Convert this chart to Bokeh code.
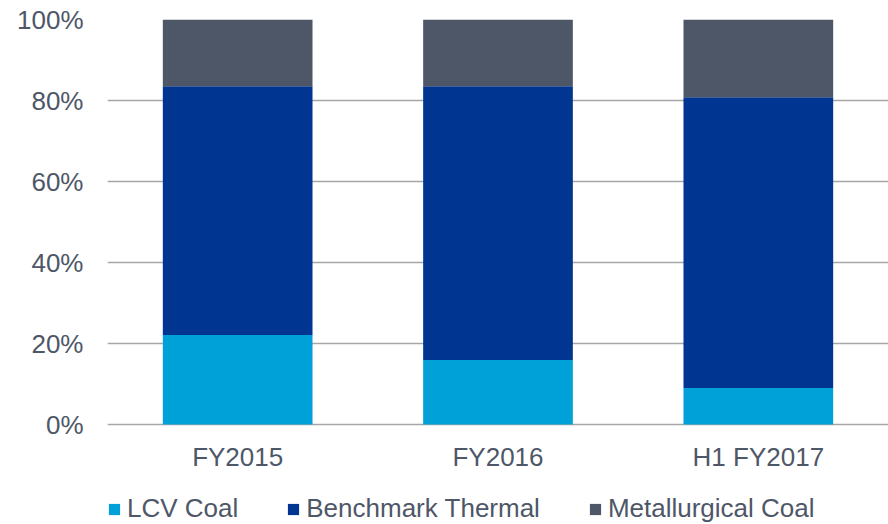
from bokeh.plotting import figure
from bokeh.models import FactorRange, Range1d, Legend, LegendItem, PrintfTickFormatter, FixedTicker
from bokeh.core.properties import value
from bokeh.embed import file_html
from bokeh.resources import INLINE

categories = ["FY2015", "FY2016", "H1 FY2017"]
lcv_coal = [22.1, 15.9, 9.0]
benchmark_thermal = [61.4, 67.6, 71.8]
metallurgical_coal = [16.5, 16.5, 19.2]
series_names = ["LCV Coal", "Benchmark Thermal", "Metallurgical Coal"]
y_ticks = [0, 20, 40, 60, 80, 100]

colors = ["#00A1D9", "#003591", "#4E5768"]
text_color = "#4E5768"
font = "Liberation Sans"

# plot area: 0% at 424px, 100% at 19px; frame extends to bottom of canvas (524px)
frame_top, zero_px, canvas_h = 19, 424, 524
y_min = -100.0 * (canvas_h - zero_px) / (zero_px - frame_top)

data = dict(cat=categories, lcv=lcv_coal, bench=benchmark_thermal, met=metallurgical_coal,
            base=[0] * len(categories))

p = figure(width=888, height=canvas_h, output_backend="svg", toolbar_location=None,
           x_range=FactorRange(factors=categories, range_padding=0),
           y_range=Range1d(y_min, 100),
           min_border_left=107, min_border_right=0, min_border_top=frame_top, min_border_bottom=0)

rs = p.vbar_stack(["lcv", "bench", "met"], x="cat", width=0.575, source=data,
                  color=colors, line_color=None)

# category labels under the bars
p.text(x="cat", y="base", text="cat", source=data, y_offset=17,
       text_font=value(font), text_font_size="26px", text_color=text_color,
       text_align="center", text_baseline="top")

p.outline_line_color = None
p.background_fill_color = "white"
p.xaxis.visible = False
p.xgrid.grid_line_color = None
p.ygrid.grid_line_color = "#A6A6A6"
p.ygrid.grid_line_width = 1.5
p.yaxis.ticker = FixedTicker(ticks=y_ticks)
p.ygrid.ticker = FixedTicker(ticks=y_ticks)
p.yaxis.formatter = PrintfTickFormatter(format="%d%%")

ax = p.yaxis[0]
ax.axis_line_color = None
ax.major_tick_line_color = None
ax.minor_tick_line_color = None
ax.major_label_text_font = font
ax.major_label_text_font_size = "26px"
ax.major_label_text_color = text_color
ax.major_label_standoff = 18

legend = Legend(items=[LegendItem(label=n, renderers=[r]) for n, r in zip(series_names, rs)],
                orientation="horizontal", location=(0, 0),
                label_text_font=font, label_text_font_size="26px", label_text_color=text_color,
                glyph_width=14, glyph_height=14, label_standoff=6, spacing=48,
                padding=0, margin=0, border_line_color=None, background_fill_alpha=0)
p.add_layout(legend, "center")

open("out.html", "w").write(file_html(p, INLINE))
